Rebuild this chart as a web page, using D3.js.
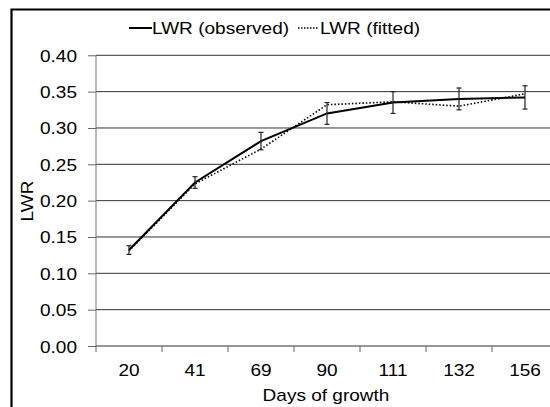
<!DOCTYPE html>
<html><head><meta charset="utf-8">
<script src="https://cdn.jsdelivr.net/npm/d3@7"></script>
<style>html,body{margin:0;background:#fff;overflow:hidden}svg{display:block;overflow:hidden}text{font-family:"Liberation Sans",Arial,sans-serif;fill:#000}</style>
</head><body>
<svg id="c" width="550" height="407"></svg>
<script>
const categories = ["20","41","69","90","111","132","156"];
const observed = [0.132, 0.225, 0.282, 0.320, 0.335, 0.340, 0.342];
const observedErr = [0.006, 0.008, 0.012, 0.015, 0.015, 0.015, 0.016];
const fitted = [0.131, 0.223, 0.271, 0.332, 0.336, 0.330, 0.347];
const yTicks = [0,0.05,0.10,0.15,0.20,0.25,0.30,0.35,0.40];

const svg = d3.select("#c");
const SX = 1.12, FS = 17;
function txt(g, x, y, s, anchor){
  return g.append("text").attr("transform", `translate(${x},${y}) scale(${SX},1)`)
    .attr("text-anchor", anchor).style("font-size", FS+"px").text(s);
}
// frame (left and top edges visible; continues beyond the picture)
svg.append("path").attr("d","M11.5,407 L11.5,9.5 L550,9.5")
  .attr("fill","none").attr("stroke","#000").attr("stroke-width",2.2);

const L=96, T=55.3, B=346;
const x = d3.scaleBand().domain(categories).range([L, L+66*7]);
const y = d3.scaleLinear().domain([0,0.4]).range([B,T]);
const cx = d => x(d)+x.bandwidth()/2;

// gridlines
svg.append("g").selectAll("line").data(yTicks.slice(1)).join("line")
  .attr("x1",L).attr("x2",550).attr("y1",d=>y(d)).attr("y2",d=>y(d))
  .attr("stroke","#333").attr("stroke-width",1);

// y axis
const ya = svg.append("g").attr("transform",`translate(${L},0)`)
  .call(d3.axisLeft(y).tickValues(yTicks).tickSize(8).tickFormat(d3.format(".2f")));
ya.select(".domain").remove();
ya.selectAll(".tick line").attr("stroke","#666");
ya.selectAll(".tick text").remove();
ya.selectAll(".tick").each(function(d){
  txt(d3.select(this), -19, 6, d3.format(".2f")(d), "end");
});
svg.append("line").attr("x1",L).attr("x2",L).attr("y1",T).attr("y2",B).attr("stroke","#777");

// x axis
const xa = svg.append("g").attr("transform",`translate(0,${B})`);
xa.append("line").attr("x1",L).attr("x2",550).attr("stroke","#333");
xa.selectAll("line.tk").data(categories).join("line").attr("class","tk")
  .attr("x1",d=>x(d)).attr("x2",d=>x(d))
  .attr("y1",0).attr("y2",6).attr("stroke","#666");
categories.forEach(c => txt(xa, cx(c), 30, c, "middle"));

// axis titles
txt(svg, 326, 401, "Days of growth", "middle");
svg.append("text").attr("transform","translate(33,201) rotate(-90) scale(1.12,1)")
  .attr("text-anchor","middle").style("font-size",FS+"px").text("LWR");

// fitted line (dotted)
const line = d3.line().x((d,i)=>cx(categories[i])).y(d=>y(d));
svg.append("path").datum(fitted).attr("d",line).attr("fill","none")
  .attr("stroke","#000").attr("stroke-width",1.6).attr("stroke-dasharray","1.5,2");
// observed line
svg.append("path").datum(observed).attr("d",line).attr("fill","none")
  .attr("stroke","#000").attr("stroke-width",2);
// error bars
const eb = svg.append("g").attr("stroke","#222").attr("stroke-width",1.2);
observed.forEach((v,i)=>{
  const X = cx(categories[i]);
  eb.append("line").attr("x1",X).attr("x2",X).attr("y1",y(v-observedErr[i])).attr("y2",y(v+observedErr[i]));
  [v-observedErr[i], v+observedErr[i]].forEach(e=>
    eb.append("line").attr("x1",X-2.5).attr("x2",X+2.5).attr("y1",y(e)).attr("y2",y(e)));
});

// legend
const lg = svg.append("g");
lg.append("line").attr("x1",129).attr("x2",152).attr("y1",28).attr("y2",28).attr("stroke","#000").attr("stroke-width",2);
txt(lg, 152, 34, "LWR (observed)", "start");
lg.append("line").attr("x1",298).attr("x2",319).attr("y1",28).attr("y2",28).attr("stroke","#000").attr("stroke-width",1.3).attr("stroke-dasharray","1.5,1.5");
txt(lg, 320, 34, "LWR (fitted)", "start");
</script>
</body></html>
